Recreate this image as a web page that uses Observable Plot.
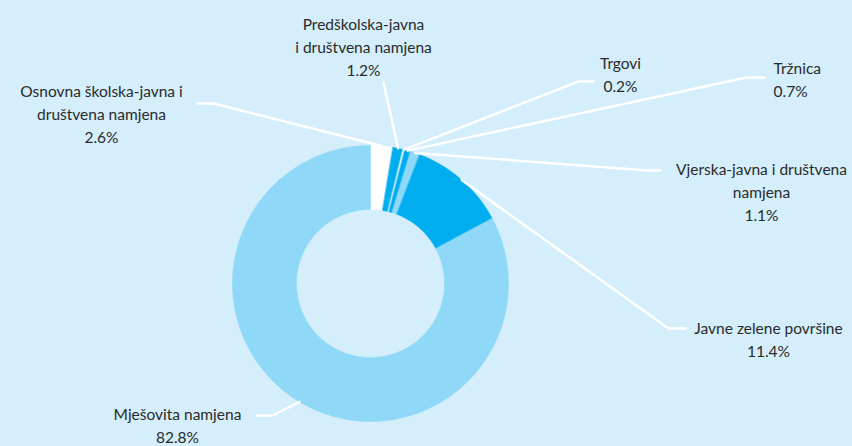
<!DOCTYPE html>
<html>
<head>
<meta charset="utf-8">
<script src="https://cdn.jsdelivr.net/npm/d3@7"></script>
<script src="https://cdn.jsdelivr.net/npm/@observablehq/plot@0.6"></script>
<style>
  html, body { margin: 0; padding: 0; background: #D4EEFB; }
  #chart svg { display: block; }
</style>
</head>
<body>
<div id="chart"></div>
<script>
// ---- data (clockwise from 12 o'clock) ----
const categories = [
  "Osnovna školska-javna i društvena namjena",
  "Predškolska-javna i društvena namjena",
  "Trgovi",
  "Tržnica",
  "Vjerska-javna i društvena namjena",
  "Javne zelene površine",
  "Mješovita namjena"
];
const shares = [2.6, 1.2, 0.2, 0.7, 1.1, 11.4, 82.8];
const labelTexts = [
  "Osnovna školska-javna i\ndruštvena namjena\n2.6%",
  "Predškolska-javna\ni društvena namjena\n1.2%",
  "Trgovi\n0.2%",
  "Tržnica\n0.7%",
  "Vjerska-javna i društvena\nnamjena\n1.1%",
  "Javne zelene površine\n11.4%",
  "Mješovita namjena\n82.8%"
];

// ---- styling / layout ----
const W = 852, H = 446;
const BG = "#D4EEFB";
const sliceColors = ["#FFFFFF", "#00AEEF", "#FFFFFF", "#00AEEF", "#8FD8F7", "#00AEEF", "#8FD8F7"];
const center = [370, 283];
const rInner = 74, rOuter = 138;
// label block centre, anchor, elbow, horizontal end of leader line (px)
const labelLayout = [
  {tx: 101, ty: 112, anchor: "middle", elbow: [213, 103], end: [197, 103]},
  {tx: 363, ty: 45,  anchor: "middle", elbow: null,       end: [383, 82]},
  {tx: 620, ty: 73,  anchor: "middle", elbow: [578, 81],  end: [593, 81]},
  {tx: 773, ty: 78,  anchor: "start",  elbow: [746, 77],  end: [764, 77]},
  {tx: 761, ty: 190, anchor: "middle", elbow: [647, 170], end: [660, 170]},
  {tx: 768, ty: 338, anchor: "middle", elbow: [668, 328], end: [685, 328]},
  {tx: 177, ty: 424, anchor: "middle", elbow: [272, 415], end: [256, 415]}
];

// ---- geometry from data ----
const pie = d3.pie().sort(null).value(d => d.v)(shares.map((v, i) => ({v, i})));
const pt = (a, r) => [center[0] + r * Math.sin(a), center[1] - r * Math.cos(a)];

const slicePts = [];
pie.forEach(p => {
  const n = Math.max(2, Math.ceil((p.endAngle - p.startAngle) / (Math.PI / 360)));
  for (let k = 0; k <= n; k++) {
    const a = p.startAngle + (p.endAngle - p.startAngle) * k / n;
    const [x, y] = pt(a, rOuter);
    slicePts.push({x, y, i: p.data.i});
  }
  for (let k = n; k >= 0; k--) {
    const a = p.startAngle + (p.endAngle - p.startAngle) * k / n;
    const [x, y] = pt(a, rInner);
    slicePts.push({x, y, i: p.data.i});
  }
});

const leaderPts = [];
pie.forEach(p => {
  const i = p.data.i, L = labelLayout[i];
  const mid = (p.startAngle + p.endAngle) / 2;
  const [x0, y0] = pt(mid, rOuter);
  leaderPts.push({x: x0, y: y0, i});
  if (L.elbow) leaderPts.push({x: L.elbow[0], y: L.elbow[1], i});
  leaderPts.push({x: L.end[0], y: L.end[1], i});
});

const labels = categories.map((c, i) => ({
  text: labelTexts[i], x: labelLayout[i].tx, y: labelLayout[i].ty, anchor: labelLayout[i].anchor
}));

const chart = Plot.plot({
  width: W, height: H,
  margin: 0,
  style: {background: BG, fontFamily: "Lato, 'Open Sans', sans-serif"},
  x: {type: "identity", axis: null},
  y: {type: "identity", axis: null},
  marks: [
    Plot.line(slicePts, {x: "x", y: "y", z: "i", curve: "linear-closed",
      fill: d => sliceColors[d.i], stroke: d => sliceColors[d.i], strokeWidth: 0.5}),
    Plot.line(leaderPts, {x: "x", y: "y", z: "i", stroke: "white", strokeWidth: 2.5}),
    Plot.text(labels.filter(d => d.anchor === "middle"), {x: "x", y: "y", text: "text",
      textAnchor: "middle", lineAnchor: "middle", lineHeight: 1.47, fontSize: 15.5, fill: "#2a2a2a"}),
    Plot.text(labels.filter(d => d.anchor === "start"), {x: "x", y: "y", text: "text",
      textAnchor: "start", lineAnchor: "middle", lineHeight: 1.47, fontSize: 15.5, fill: "#2a2a2a"})
  ]
});
document.getElementById("chart").appendChild(chart);
</script>
</body>
</html>
